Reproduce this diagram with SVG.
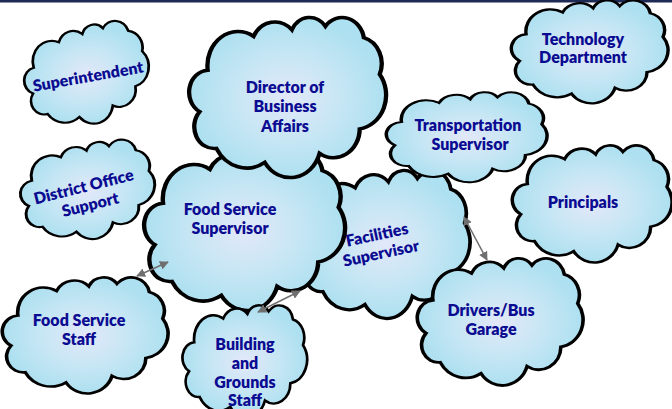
<svg xmlns="http://www.w3.org/2000/svg" width="672" height="409" viewBox="0 0 672 409">
  <defs>
    <radialGradient id="cloudFill" cx="0.5" cy="0.5" r="0.5">
      <stop offset="0" stop-color="#e2e8f9"/>
      <stop offset="0.55" stop-color="#c6e6f4"/>
      <stop offset="1" stop-color="#ade0f0"/>
    </radialGradient>
    <!-- cloud outline in a 100 x 100 box -->
    <path id="cloud" d="M9.03 33.26 A15.63 21.27 0 0 1 32.42 12.04 A12.34 16.82 0 0 1 51.98 7.95 A10.10 13.76 0 0 1 69.06 5.75 A11.24 15.27 0 0 1 88.70 12.92 A12.34 16.84 0 0 1 96.81 35.80 A15.68 21.34 0 0 1 86.59 69.92 A13.39 18.21 0 0 1 66.11 85.23 A15.63 21.33 0 0 1 38.16 90.90 A17.87 24.41 0 0 1 13.44 82.12 A10.09 13.70 0 0 1 4.89 59.15 A10.06 13.76 0 0 1 9.03 33.26 Z"/>
    <marker id="arrow" viewBox="0 0 10 10" refX="9" refY="5" markerWidth="9" markerHeight="9" markerUnits="userSpaceOnUse" orient="auto-start-reverse">
      <path d="M0 0 L10 5 L0 10 Z" fill="#6f6f6f"/>
    </marker>
  </defs>
  <style>
    .cloud use { fill: url(#cloudFill); stroke: #000; stroke-width: 2.2; vector-effect: non-scaling-stroke; }
    .label { font-family: "Lato", "Open Sans", "Liberation Sans", sans-serif; font-weight: 800; font-size: 16px; fill: #0b0b92; text-anchor: middle; }
    .conn { stroke: #6f6f6f; stroke-width: 1.5; fill: none; marker-start: url(#arrow); marker-end: url(#arrow); }
  </style>

  <rect x="0" y="0" width="672" height="409" fill="#fff"/>
  <rect x="0" y="0" width="672" height="2.5" fill="#1c2a55"/>

  <g id="superintendent" class="cloud">
    <use href="#cloud" transform="translate(87,75) rotate(-10) translate(-62.5,-49) scale(1.25,0.98)"/>
    <text class="label" transform="translate(89,82) rotate(-10)">Superintendent</text>
  </g>

  <g id="district-office" class="cloud">
    <use href="#cloud" transform="translate(88,191) rotate(-6) translate(-67,-48) scale(1.34,0.96)"/>
    <g transform="translate(86,196) rotate(-14)">
      <text class="label" x="0" y="-4">District Office</text>
      <text class="label" x="2" y="15">Support</text>
    </g>
  </g>

  <g id="technology" class="cloud">
    <use href="#cloud" transform="translate(512,0) scale(1.56,1.03)"/>
    <text class="label" x="583" y="45">Technology</text>
    <text class="label" x="583" y="63">Department</text>
  </g>

  <g id="principals" class="cloud">
    <use href="#cloud" transform="translate(513,145) scale(1.59,1.17)"/>
    <text class="label" x="583" y="208">Principals</text>
  </g>

  <g id="facilities" class="cloud">
    <use href="#cloud" transform="translate(300,170) scale(1.7,1.48)"/>
    <g transform="translate(379,244) rotate(-12)">
      <text class="label" x="0" y="-4">Facilities</text>
      <text class="label" x="0" y="15">Supervisor</text>
    </g>
  </g>

  <g id="food-service-supervisor" class="cloud">
    <use href="#cloud" transform="translate(145,150) scale(2.0,1.6)"/>
    <text class="label" x="230" y="215">Food Service</text>
    <text class="label" x="230" y="234">Supervisor</text>
  </g>

  <g id="director" class="cloud">
    <use href="#cloud" transform="translate(190,17) scale(1.96,1.6)"/>
    <text class="label" x="285" y="93">Director of</text>
    <text class="label" x="285" y="112">Business</text>
    <text class="label" x="285" y="132">Affairs</text>
  </g>

  <g id="transportation" class="cloud">
    <use href="#cloud" transform="translate(387,92) scale(1.6,0.9)"/>
    <text class="label" x="468" y="131">Transportation</text>
    <text class="label" x="470" y="150">Supervisor</text>
  </g>

  <g id="drivers" class="cloud">
    <use href="#cloud" transform="translate(418,258) scale(1.65,1.27)"/>
    <text class="label" x="491" y="316">Drivers/Bus</text>
    <text class="label" x="491" y="335">Garage</text>
  </g>

  <g id="food-service-staff" class="cloud">
    <use href="#cloud" transform="translate(3,277) scale(1.65,1.16)"/>
    <text class="label" x="79" y="326">Food Service</text>
    <text class="label" x="79" y="345">Staff</text>
  </g>

  <g id="building-grounds" class="cloud">
    <use href="#cloud" transform="translate(183,305) scale(1.24,1.12)"/>
    <text class="label" x="245" y="350">Building</text>
    <text class="label" x="245" y="369">and</text>
    <text class="label" x="245" y="388">Grounds</text>
    <text class="label" x="245" y="406">Staff</text>
  </g>

  <g id="connectors">
    <line class="conn" x1="137" y1="276" x2="168" y2="262"/>
    <line class="conn" x1="258" y1="312" x2="300" y2="291"/>
    <line class="conn" x1="464" y1="217" x2="487" y2="260"/>
  </g>
</svg>
